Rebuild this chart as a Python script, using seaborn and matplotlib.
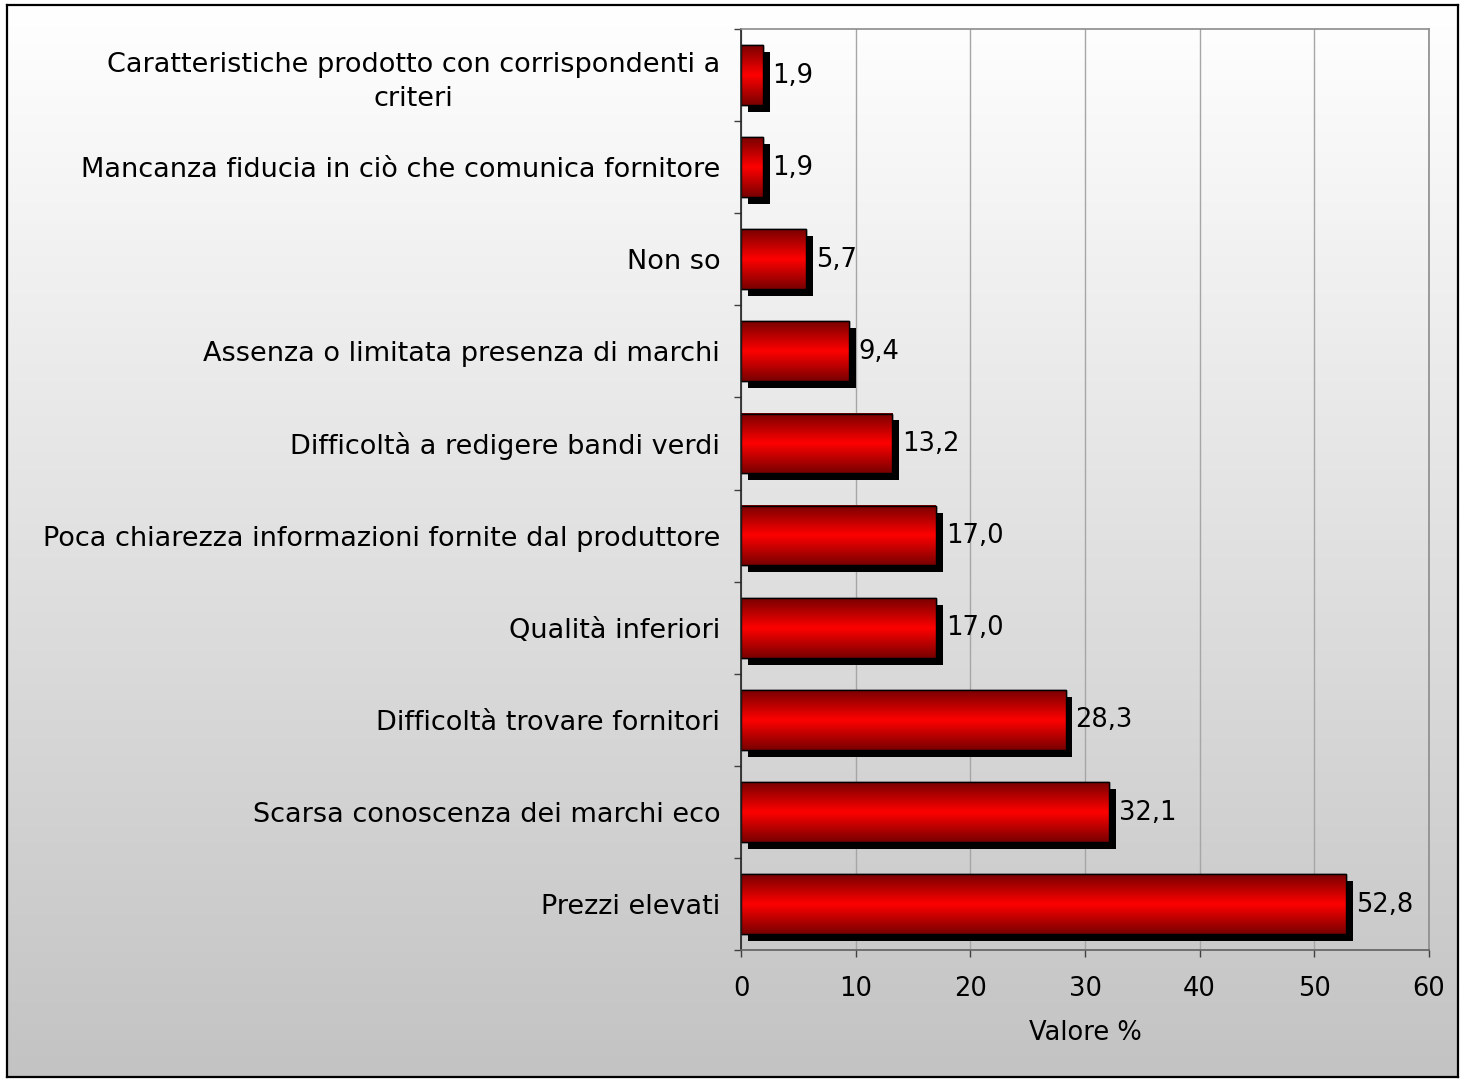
import numpy as np
import pandas as pd
import matplotlib
matplotlib.use("Agg")
import matplotlib.pyplot as plt
import matplotlib.patheffects as pe
import matplotlib.transforms as mtransforms
from matplotlib.colors import LinearSegmentedColormap
from matplotlib.patches import Rectangle
from matplotlib.ticker import FixedLocator
import seaborn as sns

categories = [
    "Caratteristiche prodotto con corrispondenti a\ncriteri",
    "Mancanza fiducia in ciò che comunica fornitore",
    "Non so",
    "Assenza o limitata presenza di marchi",
    "Difficoltà a redigere bandi verdi",
    "Poca chiarezza informazioni fornite dal produttore",
    "Qualità inferiori",
    "Difficoltà trovare fornitori",
    "Scarsa conoscenza dei marchi eco",
    "Prezzi elevati",
]
values = [1.9, 1.9, 5.7, 9.4, 13.2, 17.0, 17.0, 28.3, 32.1, 52.8]
x_ticks = [0, 10, 20, 30, 40, 50, 60]
x_label = "Valore %"

sns.set_theme(style="white")
plt.rcParams["font.family"] = ["DejaVu Sans"]
plt.rcParams["text.color"] = "black"
plt.rcParams["xtick.color"] = "black"
plt.rcParams["ytick.color"] = "black"
plt.rcParams["axes.labelcolor"] = "black"
FS_CAT = 19.5
FS = 18.5

W, H = 1460, 1079
fig = plt.figure(figsize=(W / 100, H / 100), dpi=100, facecolor="white")

# background gradient panel with black border
bg = fig.add_axes([7 / W, 2 / H, (1458 - 7) / W, (1077 - 5) / H], zorder=0)
bgcmap = LinearSegmentedColormap.from_list("bg", ["#ffffff", "#c3c3c3"])
grad = np.linspace(0, 1, 256).reshape(-1, 1)
bg.imshow(grad, aspect="auto", cmap=bgcmap, extent=[0, 1, 0, 1], origin="upper")
bg.set_xticks([])
bg.set_yticks([])
for s in bg.spines.values():
    s.set_color("black")
    s.set_linewidth(1.6)

ax = fig.add_axes([741 / W, 1 - 950 / H, (1429 - 741) / W, (950 - 29) / H], zorder=1)
ax.patch.set_alpha(0)

df = pd.DataFrame({"cat": categories, "val": values})
sns.barplot(data=df, x="val", y="cat", orient="h", color="red", width=0.65,
            edgecolor="black", linewidth=1.0, saturation=1, ax=ax, zorder=2)

ax.set_xlim(0, 60)
ax.set_ylim(len(categories) - 0.5, -0.5)

barcmap = LinearSegmentedColormap.from_list("bar", ["#780000", "#ff0000", "#780000"])
vgrad = np.linspace(0, 1, 128).reshape(-1, 1)
for p in ax.patches:
    p.set_path_effects([pe.SimplePatchShadow(offset=(5, -5), shadow_rgbFace="black", alpha=1.0),
                        pe.Normal()])
    x0, y0 = p.get_x(), p.get_y()
    w, h = p.get_width(), p.get_height()
    ax.imshow(vgrad, aspect="auto", cmap=barcmap, extent=[x0, x0 + w, y0 + h, y0],
              zorder=2.1, interpolation="bilinear")
    ax.add_patch(Rectangle((x0, y0), w, h, fill=False, edgecolor="black", linewidth=1.0, zorder=2.2))

ax.set_xlim(0, 60)
ax.set_ylim(len(categories) - 0.5, -0.5)

for i, v in enumerate(values):
    ax.annotate(f"{v:.1f}".replace(".", ","), xy=(v, i), xytext=(7, -0.5),
                textcoords="offset points", ha="left", va="center", fontsize=FS,
                color="black", zorder=3)

ax.set_xticks(x_ticks)
ax.set_xticklabels([str(t) for t in x_ticks], fontsize=FS)
ax.grid(axis="x", color="#a6a6a6", linewidth=1.0, zorder=0)
ax.grid(axis="y", visible=False)
ax.set_axisbelow(True)

ax.set_yticks(range(len(categories)))
ax.set_yticklabels(categories, fontsize=FS_CAT, multialignment="center", linespacing=1.4)
first = ax.get_yticklabels()[0]
first.set_transform(first.get_transform() + mtransforms.ScaledTranslation(0, 4 / 100, fig.dpi_scale_trans))
ax.yaxis.set_minor_locator(FixedLocator(np.arange(-0.5, len(categories), 1.0)))
ax.tick_params(axis="y", which="major", length=0, pad=15)
ax.tick_params(axis="y", which="minor", length=5, width=1, color="#404040", direction="out", left=True)
ax.tick_params(axis="x", which="major", length=5, width=1, color="#404040", direction="out", bottom=True, pad=14)
ax.set_ylabel("")
ax.set_xlabel(x_label, fontsize=FS, labelpad=13)

for name, s in ax.spines.items():
    s.set_visible(True)
    s.set_linewidth(1.2)
    s.set_color("#8c8c8c")
ax.spines["left"].set_color("#202020")
ax.spines["bottom"].set_color("#606060")

fig.savefig("out.png", dpi=100, facecolor="white")
